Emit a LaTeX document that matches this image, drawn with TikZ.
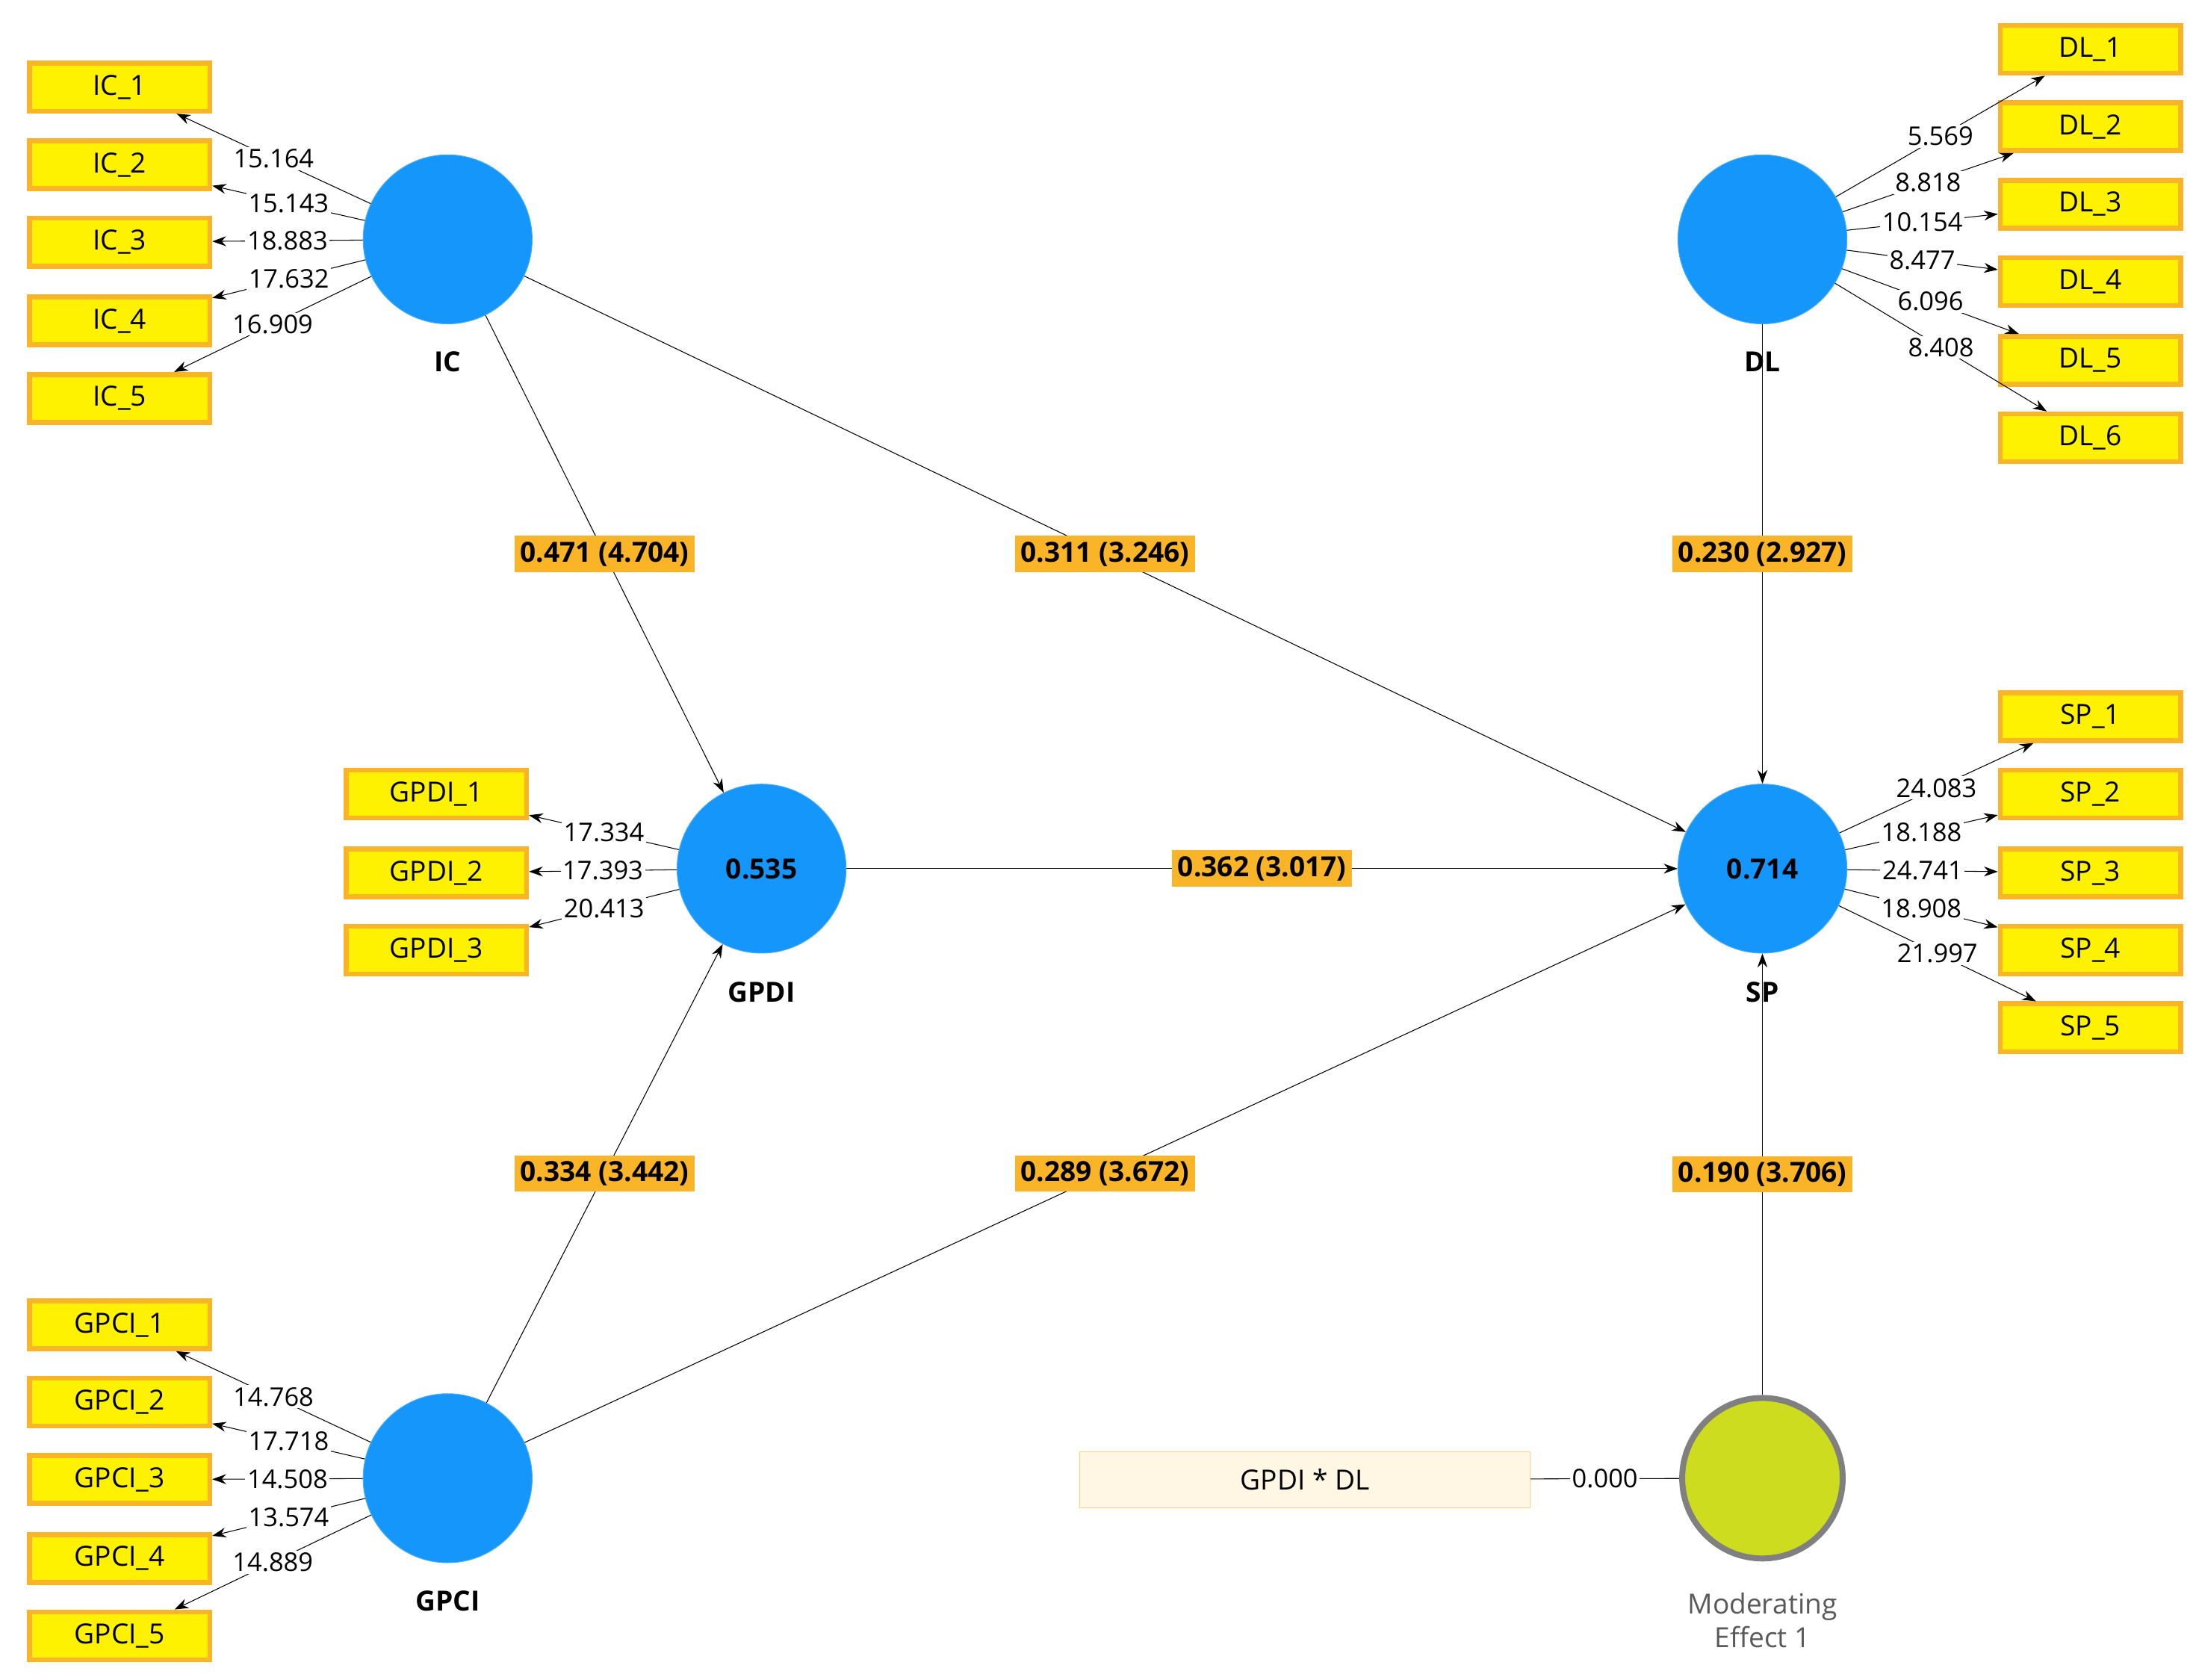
\documentclass[tikz,border=0pt]{standalone}
\usepackage{fontspec}
\setmainfont{Open Sans}
\usetikzlibrary{arrows.meta}
\definecolor{lvblue}{RGB}{20,150,250}
\definecolor{boxorange}{RGB}{250,180,40}
\definecolor{modgreen}{RGB}{205,220,30}
\definecolor{cream}{RGB}{255,246,228}
\tikzset{
  lv/.style={circle,fill=lvblue,draw=lvblue!80!white,minimum size=3cm,inner sep=0pt,font=\bfseries\fontsize{14}{16}\selectfont},
  ind/.style={rectangle,fill=yellow,draw=boxorange,line width=2.5pt,minimum width=3.2cm,minimum height=0.85cm,font=\fontsize{14}{16}\selectfont},
  path lbl/.style={fill=boxorange,inner sep=3pt,font=\bfseries\fontsize{14}{16}\selectfont},
  load/.style={fill=white,inner sep=1pt,font=\fontsize{13}{15}\selectfont},
  lvname/.style={font=\bfseries\fontsize{14}{16}\selectfont},
  arr/.style={-{Stealth[length=7pt,width=5pt]},thin},
}
\begin{document}
\begin{tikzpicture}[x=0.025cm,y=-0.025cm]
  \useasboundingbox (0,0) rectangle (1560,1193);

  % latent variables
  \node[lv] (IC) at (318,170) {};
  \node[lv] (DL) at (1252,170) {};
  \node[lv] (GPDI) at (541,617) {0.535};
  \node[lv] (SP) at (1252,617) {0.714};
  \node[lv] (GPCI) at (318,1050) {};
  \node[circle,fill=modgreen,draw=gray,line width=3pt,minimum size=2.85cm] (ME) at (1252,1050) {};

  \node[lvname] at (318,257) {IC};
  \node[lvname] at (1252,257) {DL};
  \node[lvname] at (541,705) {GPDI};
  \node[lvname] at (1252,705) {SP};
  \node[lvname] at (318,1137) {GPCI};
  \node[align=center,text=gray!70!black,font=\fontsize{14}{17}\selectfont] at (1252,1151) {Moderating\\Effect 1};

  % indicators
  \foreach \i/\y in {1/62,2/117,3/172,4/228,5/283}
    \node[ind] (IC_\i) at (85,\y) {IC\_\i};
  \foreach \i/\y in {1/35,2/90,3/145,4/200,5/256,6/311}
    \node[ind] (DL_\i) at (1485,\y) {DL\_\i};
  \foreach \i/\y in {1/509,2/564,3/620,4/675,5/730}
    \node[ind] (SP_\i) at (1485,\y) {SP\_\i};
  \foreach \i/\y in {1/564,2/620,3/675}
    \node[ind] (GPDI_\i) at (310,\y) {GPDI\_\i};
  \foreach \i/\y in {1/941,2/996,3/1051,4/1107,5/1162}
    \node[ind] (GPCI_\i) at (85,\y) {GPCI\_\i};
  \node[rectangle,fill=cream,draw=boxorange!60,minimum width=8cm,minimum height=1cm,font=\fontsize{14}{16}\selectfont] (GD) at (927,1051) {GPDI * DL};

  % loadings
  \foreach \i/\v in {1/15.164,2/15.143,3/18.883,4/17.632,5/16.909}
    \draw[arr] (IC) -- node[load]{\v} (IC_\i);
  \foreach \i/\v in {1/5.569,2/8.818,3/10.154,4/8.477,5/6.096,6/8.408}
    \draw[arr] (DL) -- node[load]{\v} (DL_\i);
  \foreach \i/\v in {1/24.083,2/18.188,3/24.741,4/18.908,5/21.997}
    \draw[arr] (SP) -- node[load]{\v} (SP_\i);
  \foreach \i/\v in {1/17.334,2/17.393,3/20.413}
    \draw[arr] (GPDI) -- node[load]{\v} (GPDI_\i);
  \foreach \i/\v in {1/14.768,2/17.718,3/14.508,4/13.574,5/14.889}
    \draw[arr] (GPCI) -- node[load]{\v} (GPCI_\i);
  \draw (GD) -- node[load]{0.000} (ME);

  % structural paths
  \draw[arr] (IC) -- node[path lbl]{0.471 (4.704)} (GPDI);
  \draw[arr] (IC) -- node[path lbl]{0.311 (3.246)} (SP);
  \draw[arr] (DL) -- node[path lbl]{0.230 (2.927)} (SP);
  \draw[arr] (GPDI) -- node[path lbl]{0.362 (3.017)} (SP);
  \draw[arr] (GPCI) -- node[path lbl]{0.334 (3.442)} (GPDI);
  \draw[arr] (GPCI) -- node[path lbl]{0.289 (3.672)} (SP);
  \draw[arr] (ME) -- node[path lbl]{0.190 (3.706)} (SP);
\end{tikzpicture}
\end{document}
